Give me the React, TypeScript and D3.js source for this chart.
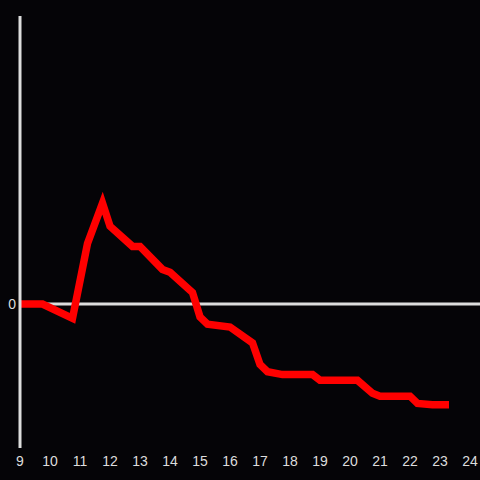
import React from "react";
import * as d3 from "d3";

const hours = [9, 9.75, 10.75, 11.25, 11.75, 12, 12.75, 13, 13.75, 14, 14.75, 15, 15.25, 16, 16.75, 17, 17.25, 17.75, 18.75, 19, 20.25, 20.75, 21, 22, 22.25, 22.75, 23.3];
const values = [0, 0, -0.1, 0.42, 0.7, 0.54, 0.4, 0.4, 0.24, 0.22, 0.08, -0.09, -0.14, -0.16, -0.27, -0.42, -0.47, -0.49, -0.49, -0.53, -0.53, -0.62, -0.64, -0.64, -0.69, -0.7, -0.7];
const xTicks = [9, 10, 11, 12, 13, 14, 15, 16, 17, 18, 19, 20, 21, 22, 23, 24];
const yTicks = [0];

export default function App() {
  const W = 480, H = 480;
  const x = d3.scaleLinear().domain([9, 24]).range([20, 470]);
  const y = d3.scaleLinear().domain([-1, 2]).range([448, 16]);
  const data = hours.map((h, i) => [h, values[i]] as [number, number]);
  const line = d3.line<[number, number]>().x(d => x(d[0])).y(d => y(d[1]));
  return (
    <div style={{ position: "fixed", left: 0, top: 0, width: W, height: H }}>
      <svg width={W} height={H} style={{ display: "block", background: "#050407" }}>
        <rect x={0} y={0} width={W} height={H} fill="#050407" />
        {yTicks.map(t => (
          <g key={t}>
            <line x1={20} x2={W} y1={y(t)} y2={y(t)} stroke="#dddddd" strokeWidth={3} />
            <text x={16} y={y(t) + 5} textAnchor="end" fill="#dddddd" fontSize={14} fontFamily="Liberation Sans, Arial, sans-serif">{t}</text>
          </g>
        ))}
        {xTicks.map(t => (
          <text key={t} x={x(t)} y={466} textAnchor="middle" fill="#dddddd" fontSize={14} fontFamily="Liberation Sans, Arial, sans-serif">{t}</text>
        ))}
        <path d={line(data) || ""} fill="none" stroke="#ff0000" strokeWidth={7.5} strokeLinejoin="miter" />
        <line x1={20} x2={20} y1={16} y2={448} stroke="#dddddd" strokeWidth={3} />
      </svg>
    </div>
  );
}
